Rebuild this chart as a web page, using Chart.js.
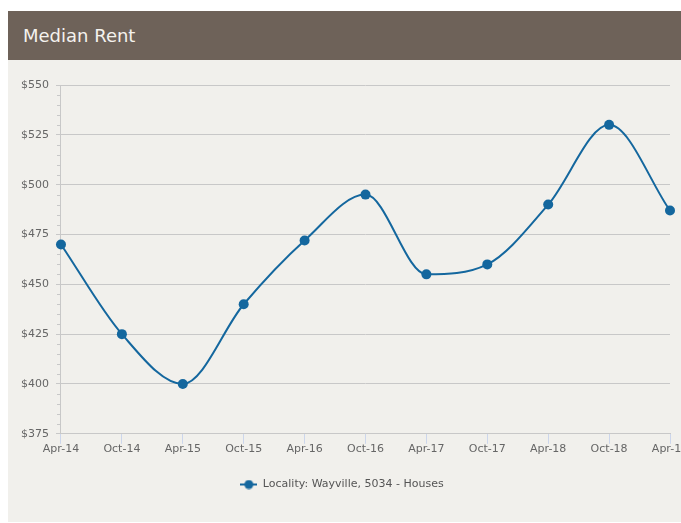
<!DOCTYPE html>
<html>
<head>
<meta charset="utf-8">
<title>Median Rent</title>
<script src="https://cdn.jsdelivr.net/npm/chart.js@4/dist/chart.umd.min.js"></script>
<style>
  html, body { margin: 0; padding: 0; background: #fff; overflow: hidden; }
  .panel { position: absolute; left: 8px; top: 11px; width: 700px; }
  .panel-head {
    height: 49px; background: #6e6259; color: #f4f2ee;
    font: 18px "DejaVu Sans", sans-serif; line-height: 49px; padding-left: 15px;
  }
  .panel-body { background: #f1f0ec; height: 462px; }
  canvas { display: block; }
</style>
</head>
<body>
<div class="panel">
  <div class="panel-head">Median Rent</div>
  <div class="panel-body"><canvas id="rentChart" width="682" height="462"></canvas></div>
</div>
<script>
const periods = ["Apr-14", "Oct-14", "Apr-15", "Oct-15", "Apr-16", "Oct-16", "Apr-17", "Oct-17", "Apr-18", "Oct-18", "Apr-19"];
const medianRent = [470, 425, 400, 440, 472, 495, 455, 460, 490, 530, 487];
const seriesName = "Locality: Wayville, 5034 - Houses";
const yTicks = [375, 400, 425, 450, 475, 500, 525, 550];

const lineColor = "#14679e";

// legend marker: short line with a dot in the middle
const marker = document.createElement("canvas");
marker.width = 17;
marker.height = 10;
const mctx = marker.getContext("2d");
mctx.strokeStyle = lineColor;
mctx.lineWidth = 2;
mctx.beginPath();
mctx.moveTo(0, 5);
mctx.lineTo(17, 5);
mctx.stroke();
mctx.fillStyle = lineColor;
mctx.beginPath();
mctx.arc(8.5, 5, 4.5, 0, Math.PI * 2);
mctx.fill();

// small ticks every $5 on the left side of the y axis (under the line)
const minorTicks = {
  id: "minorTicks",
  beforeDatasetsDraw(chart) {
    const y = chart.scales.y;
    const ctx = chart.ctx;
    ctx.save();
    ctx.strokeStyle = "#c8c8c8";
    ctx.lineWidth = 1;
    for (let v = yTicks[0]; v <= yTicks[yTicks.length - 1]; v += 5) {
      if (v % 25 === 0) continue;
      const py = Math.round(y.getPixelForValue(v)) + 0.5;
      ctx.beginPath();
      ctx.moveTo(y.right - 4, py);
      ctx.lineTo(y.right, py);
      ctx.stroke();
    }
    ctx.restore();
  }
};

Chart.defaults.font.family = "'DejaVu Sans', sans-serif";
Chart.defaults.font.size = 11;
Chart.defaults.color = "#666";

new Chart(document.getElementById("rentChart"), {
  type: "line",
  data: {
    labels: periods,
    datasets: [{
      label: seriesName,
      data: medianRent,
      borderColor: lineColor,
      backgroundColor: lineColor,
      borderWidth: 2,
      pointRadius: 5,
      pointBorderWidth: 0,
      pointBackgroundColor: lineColor,
      cubicInterpolationMode: "monotone",
      clip: false
    }]
  },
  options: {
    responsive: false,
    animation: false,
    layout: { padding: { top: 25, left: 6, right: 20, bottom: 22 } },
    scales: {
      x: {
        offset: false,
        grid: { drawOnChartArea: false, color: "#ccd6eb", tickLength: 10 },
        border: { color: "#c8c8c8" },
        ticks: { padding: -1, maxRotation: 0, autoSkip: false }
      },
      y: {
        min: 375,
        max: 550,
        afterBuildTicks: axis => { axis.ticks = yTicks.map(v => ({ value: v })); },
        grid: { color: "#c8c8c8", tickColor: "#c8c8c8", tickLength: 5 },
        border: { color: "#c8c8c8" },
        ticks: { padding: 7, callback: v => "$" + v }
      }
    },
    plugins: {
      legend: {
        position: "bottom",
        labels: {
          usePointStyle: true,
          pointStyle: marker,
          pointStyleWidth: 17,
          color: "#555",
          padding: 24
        }
      },
      tooltip: { enabled: false }
    }
  },
  plugins: [minorTicks]
});
</script>
</body>
</html>
